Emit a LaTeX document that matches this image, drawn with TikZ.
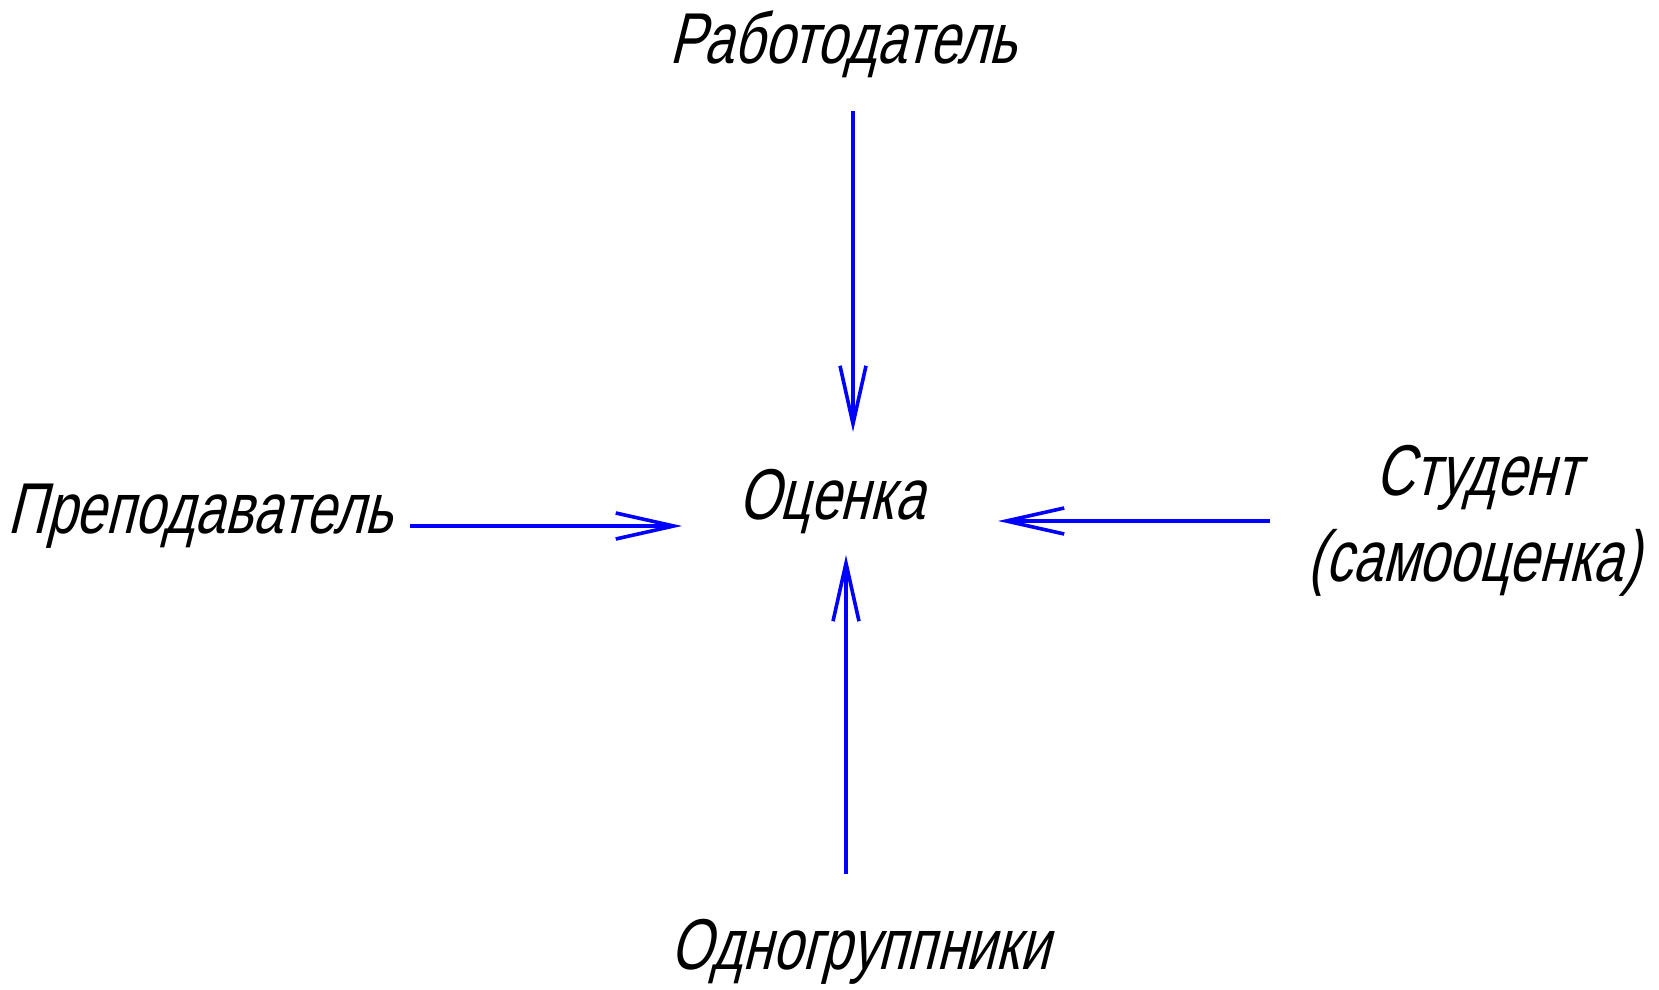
\documentclass[tikz,border=0pt]{standalone}
\usepackage{fontspec}
\usetikzlibrary{arrows.meta}
\newfontfamily\gost{Liberation Sans}[FakeSlant=0.25,FakeStretch=0.745]
\definecolor{arrowblue}{RGB}{0,0,255}
\tikzset{
  lbl/.style={font=\gost\fontsize{72}{88}\selectfont, inner sep=0pt, align=center},
  conn/.style={draw=arrowblue, line width=3.6pt, -{Straight Barb[length=58pt,width=26pt,line width=3.6pt]}}
}
\begin{document}
\begin{tikzpicture}[x=1pt,y=-1pt]
\useasboundingbox (0,0) rectangle (1659,990);
\node[lbl] (rab) at (843,44) {Работодатель};
\node[lbl] (oc) at (831,502) {Оценка};
\node[lbl] (prep) at (200,516) {Преподаватель};
\node[lbl] (stud) at (1478,478) {Студент};
\node[lbl] (samo) at (1474,563) {(самооценка)};
\node[lbl] (odn) at (860,952) {Одногруппники};
\coordinate (t1) at (853,111);
\coordinate (h1) at (853,432);
\coordinate (t2) at (410,526);
\coordinate (h2) at (682,526);
\coordinate (t3) at (1270,521);
\coordinate (h3) at (998,521);
\coordinate (t4) at (846,874);
\coordinate (h4) at (846,555);
\draw[conn] (t1) -- (h1);
\draw[conn] (t2) -- (h2);
\draw[conn] (t3) -- (h3);
\draw[conn] (t4) -- (h4);
\end{tikzpicture}
\end{document}
